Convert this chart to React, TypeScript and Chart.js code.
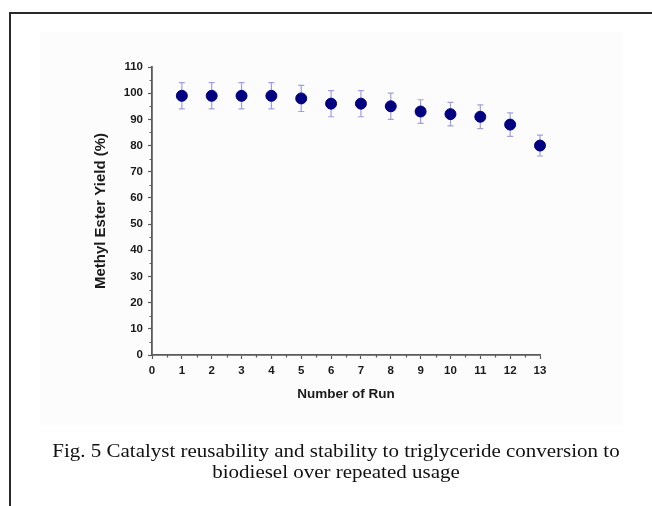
import React, { useEffect, useRef } from "react";
import { Chart, registerables } from "chart.js";

Chart.register(...registerables);

const runs = [1, 2, 3, 4, 5, 6, 7, 8, 9, 10, 11, 12, 13];
const yieldValues = [99, 99, 99, 99, 98, 96, 96, 95, 93, 92, 91, 88, 80];
const errorValues = [5, 5, 5, 5, 5, 5, 5, 5, 4.5, 4.5, 4.5, 4.5, 4];
const xTitle = "Number of Run";
const yTitle = "Methyl Ester Yield (%)";
const captionLines = [
  "Fig. 5 Catalyst reusability and stability to triglyceride conversion to",
  "biodiesel over repeated usage",
];

const AXIS_COLOR = "#5a5a5a";
const TEXT_COLOR = "#1a1a1a";
const FONT = "'Liberation Sans', Arial, sans-serif";

const errorBarPlugin = {
  id: "errorBars",
  beforeDatasetsDraw(chart: any) {
    const { ctx, scales } = chart;
    const xs = scales.x;
    const ys = scales.y;
    ctx.save();
    ctx.strokeStyle = "#a0a0de";
    ctx.lineWidth = 1.2;
    runs.forEach((r, i) => {
      const px = xs.getPixelForValue(r);
      const top = ys.getPixelForValue(yieldValues[i] + errorValues[i]);
      const bot = ys.getPixelForValue(yieldValues[i] - errorValues[i]);
      ctx.beginPath();
      ctx.moveTo(px, top);
      ctx.lineTo(px, bot);
      ctx.moveTo(px - 3, top);
      ctx.lineTo(px + 3, top);
      ctx.moveTo(px - 3, bot);
      ctx.lineTo(px + 3, bot);
      ctx.stroke();
    });
    ctx.restore();
  },
};

const minorTickPlugin = {
  id: "minorTicks",
  afterDraw(chart: any) {
    const { ctx, scales, chartArea } = chart;
    const xs = scales.x;
    const ys = scales.y;
    ctx.save();
    ctx.strokeStyle = AXIS_COLOR;
    ctx.lineWidth = 1.2;
    ctx.beginPath();
    for (let v = 0.5; v < 13; v += 1) {
      const px = Math.round(xs.getPixelForValue(v)) + 0.5;
      ctx.moveTo(px, chartArea.bottom);
      ctx.lineTo(px, chartArea.bottom + 2.5);
    }
    for (let v = 5; v < 110; v += 10) {
      const py = Math.round(ys.getPixelForValue(v)) + 0.5;
      ctx.moveTo(chartArea.left, py);
      ctx.lineTo(chartArea.left - 2.5, py);
    }
    ctx.stroke();
    ctx.restore();
  },
};

export default function App() {
  const canvasRef = useRef<HTMLCanvasElement | null>(null);

  useEffect(() => {
    if (!canvasRef.current) return;
    const chart = new Chart(canvasRef.current, {
      type: "scatter",
      data: {
        datasets: [
          {
            data: runs.map((r, i) => ({ x: r, y: yieldValues[i] })),
            backgroundColor: "#000080",
            borderColor: "#000080",
            pointRadius: 5.5,
            pointHoverRadius: 5.5,
            clip: false as any,
          },
        ],
      },
      options: {
        animation: false,
        responsive: false,
        devicePixelRatio: 1,
        layout: { padding: { left: 0, right: 112, top: 67, bottom: 0 } },
        plugins: { legend: { display: false }, tooltip: { enabled: false } },
        scales: {
          x: {
            type: "linear",
            min: 0,
            max: 13,
            afterFit: (s: any) => {
              s.height = 151;
            },
            ticks: {
              stepSize: 1,
              autoSkip: false,
              color: TEXT_COLOR,
              padding: 5,
              maxRotation: 0,
              font: { family: FONT, size: 11.5, weight: "bold" },
            },
            grid: {
              drawOnChartArea: false,
              drawTicks: true,
              tickLength: 4,
              tickColor: AXIS_COLOR,
              tickWidth: 1.2,
            },
            border: { display: true, color: AXIS_COLOR, width: 1.8 },
            title: {
              display: true,
              text: xTitle,
              color: TEXT_COLOR,
              font: { family: FONT, size: 13.5, weight: "bold" },
              padding: { top: 0, bottom: 104 },
            },
          },
          y: {
            type: "linear",
            min: 0,
            max: 110,
            afterFit: (s: any) => {
              s.width = 152;
            },
            ticks: {
              stepSize: 10,
              autoSkip: false,
              color: TEXT_COLOR,
              padding: 5,
              font: { family: FONT, size: 11.5, weight: "bold" },
            },
            grid: {
              drawOnChartArea: false,
              drawTicks: true,
              tickLength: 4,
              tickColor: AXIS_COLOR,
              tickWidth: 1.2,
            },
            border: { display: true, color: AXIS_COLOR, width: 1.8 },
            title: {
              display: true,
              text: yTitle,
              color: TEXT_COLOR,
              font: { family: FONT, size: 15, weight: "bold" },
              padding: { top: 92, bottom: 0 },
            },
          },
        },
      },
      plugins: [errorBarPlugin, minorTickPlugin],
    });
    return () => chart.destroy();
  }, []);

  return (
    <div
      style={{
        position: "fixed",
        left: 0,
        top: 0,
        width: 652,
        height: 506,
        background: "#ffffff",
        overflow: "hidden",
      }}
    >
      <div
        style={{
          position: "absolute",
          left: 40,
          top: 32,
          width: 583,
          height: 393,
          background: "#fcfcfc",
        }}
      />
      <div
        style={{
          position: "absolute",
          left: 9,
          top: 12,
          width: 643,
          height: 2,
          background: "#2a2a2a",
        }}
      />
      <div
        style={{
          position: "absolute",
          left: 9,
          top: 12,
          width: 2,
          height: 494,
          background: "#2a2a2a",
        }}
      />
      <canvas
        ref={canvasRef}
        width={652}
        height={506}
        style={{ position: "absolute", left: 0, top: 0, width: 652, height: 506 }}
      />
      <div
        style={{
          position: "absolute",
          left: 20,
          width: 632,
          top: 441,
          textAlign: "center",
          fontFamily: "'Liberation Serif', 'Times New Roman', serif",
          fontSize: 18,
          lineHeight: "21px",
          color: "#111",
          transform: "scaleX(1.165)",
          transformOrigin: "316px 0",
          whiteSpace: "nowrap",
        }}
      >
        {captionLines.map((l, i) => (
          <div key={i}>{l}</div>
        ))}
      </div>
    </div>
  );
}
